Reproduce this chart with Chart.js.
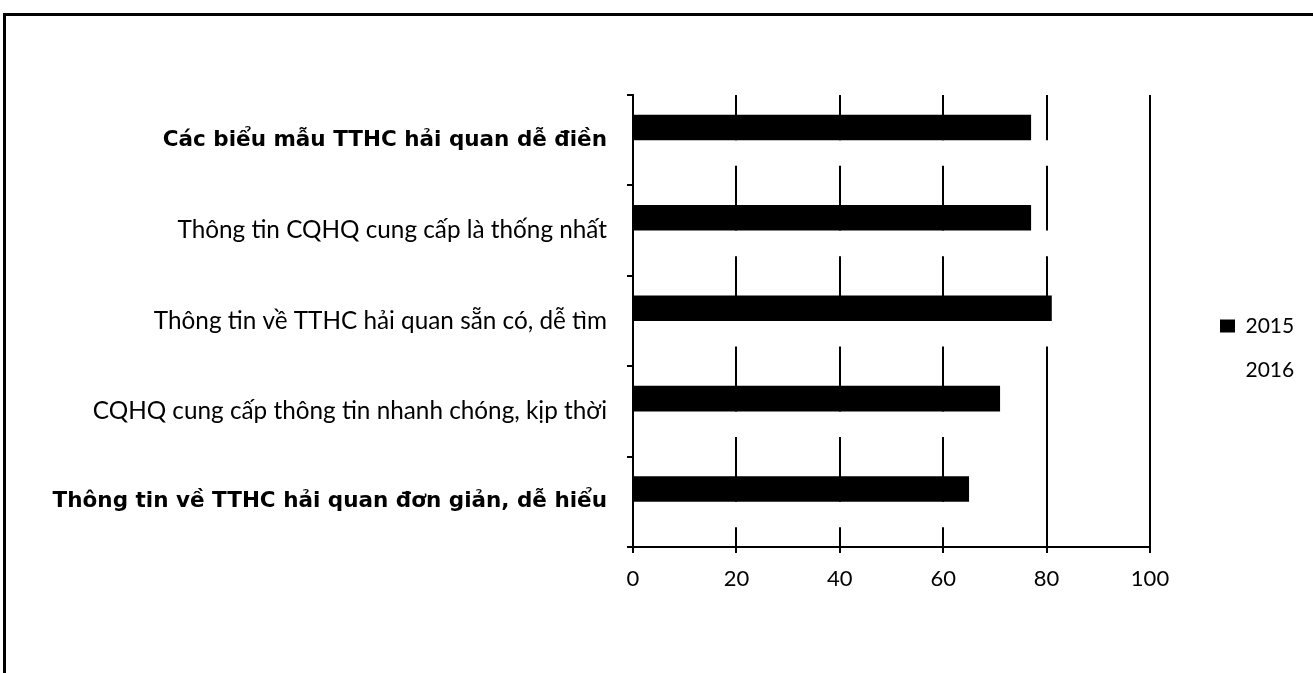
<!DOCTYPE html>
<html lang="vi">
<head>
<meta charset="utf-8">
<title>Đánh giá thông tin TTHC hải quan 2015–2016</title>
<script src="https://cdn.jsdelivr.net/npm/chart.js@4.4.1/dist/chart.umd.min.js"></script>
<style>
  html, body { margin: 0; padding: 0; background: #fff; }
  body { width: 1313px; height: 673px; position: relative; overflow: hidden; }
  #frame {
    position: absolute; left: 3px; top: 13px; width: 1330px; height: 700px;
    border-top: 3px solid #000; border-left: 3px solid #000; box-sizing: border-box;
  }
  #chart { position: absolute; left: 0; top: 0; }
</style>
</head>
<body>
<div id="frame"></div>
<canvas id="chart" width="1313" height="673"></canvas>
<script>
// Criteria (top to bottom)
const categories = [
  'Các biểu mẫu TTHC hải quan dễ điền',
  'Thông tin CQHQ cung cấp là thống nhất',
  'Thông tin về TTHC hải quan sẵn có, dễ tìm',
  'CQHQ cung cấp thông tin nhanh chóng, kịp thời',
  'Thông tin về TTHC hải quan đơn giản, dễ hiểu'
];
// Share of respondents (%)
const values2015 = [77, 77, 81, 71, 65];
const values2016 = [81, 86, 84, 64, 74];
const seriesNames = ['2015', '2016'];
const xTicks = [0, 20, 40, 60, 80, 100];

// Labels in the first and last rows use a heavier sans face
const boldRows = [0, 4];

// Moves the vertical legend away from the plot area
const legendNudge = {
  id: 'legendNudge',
  afterLayout(chart) {
    const lg = chart.legend;
    const dx = 47;
    lg.left += dx;
    lg.right += dx;
    (lg.legendHitBoxes || []).forEach(h => { h.left += dx; });
  }
};

Chart.defaults.color = '#000';

new Chart(document.getElementById('chart'), {
  type: 'bar',
  data: {
    labels: categories,
    datasets: [
      {
        label: seriesNames[0],
        data: values2015,
        backgroundColor: '#000',
        borderWidth: 0
      },
      {
        label: seriesNames[1],
        data: values2016,
        backgroundColor: '#fff',
        borderWidth: 0
      }
    ]
  },
  options: {
    indexAxis: 'y',
    responsive: false,
    animation: false,
    devicePixelRatio: 1,
    datasets: {
      bar: { categoryPercentage: 0.565, barPercentage: 1.0 }
    },
    layout: { padding: { top: 95, bottom: 72, left: 0, right: 63 } },
    scales: {
      x: {
        min: 0,
        max: 100,
        afterBuildTicks(scale) { scale.ticks = xTicks.map(v => ({ value: v })); },
        afterFit(scale) { scale.height = 54; },
        grid: {
          color: '#000',
          lineWidth: 2,
          drawTicks: true,
          tickLength: 6,
          tickColor: '#000',
          tickWidth: 2
        },
        border: { display: true, color: '#000', width: 2 },
        ticks: {
          padding: 13,
          color: '#000',
          font: { family: 'Lato', size: 22 }
        }
      },
      y: {
        afterFit(scale) { scale.width = 633; },
        grid: {
          drawOnChartArea: false,
          drawTicks: true,
          tickLength: 6,
          color: '#000',
          lineWidth: 2
        },
        border: { display: true, color: '#000', width: 2 },
        ticks: {
          padding: 20,
          color: '#000',
          font(ctx) {
            return boldRows.includes(ctx.index)
              ? { family: 'DejaVu Sans', size: 21.5, weight: 'bold' }
              : { family: 'Lato', size: 24.3 };
          }
        }
      }
    },
    plugins: {
      legend: {
        position: 'right',
        maxWidth: 100,
        labels: {
          boxWidth: 15,
          boxHeight: 13,
          padding: 23,
          color: '#000',
          font: { family: 'Lato', size: 21 }
        }
      },
      tooltip: { enabled: false }
    }
  },
  plugins: [legendNudge]
});
</script>
</body>
</html>
